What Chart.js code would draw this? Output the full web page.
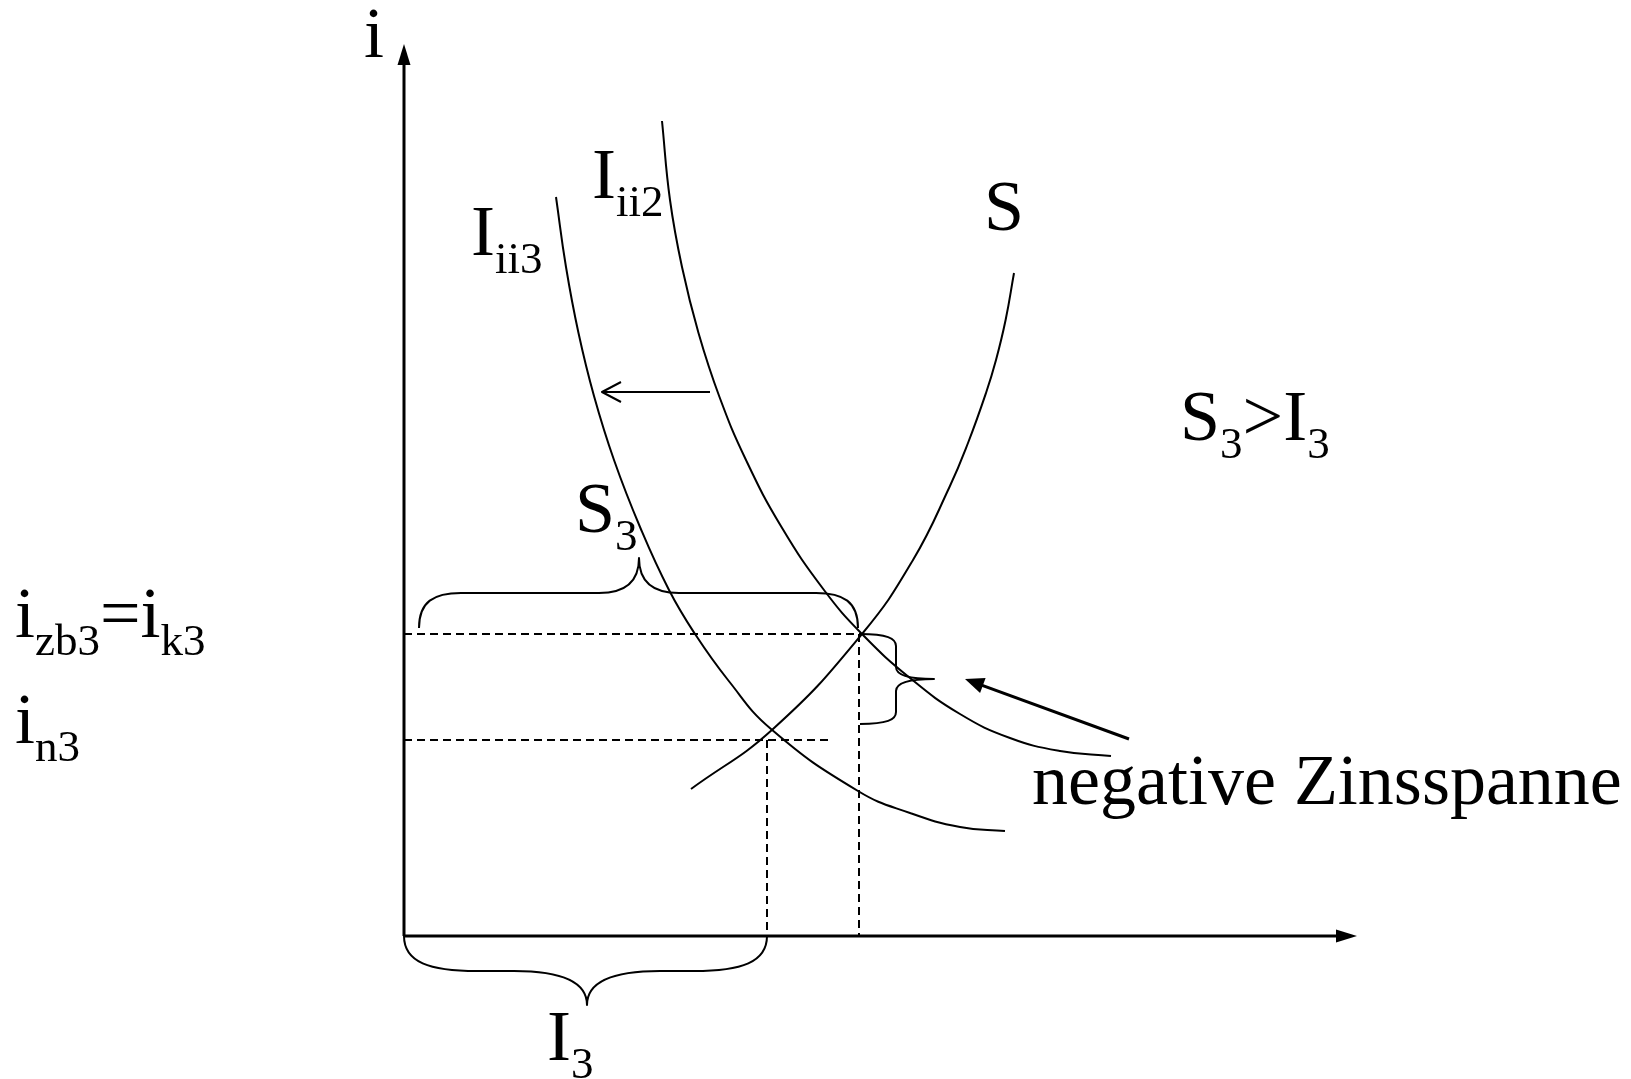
<!DOCTYPE html>
<html>
<head>
<meta charset="utf-8">
<script src="https://cdn.jsdelivr.net/npm/chart.js@4/dist/chart.umd.min.js"></script>
<style>
html,body{margin:0;padding:0;background:#fff;overflow:hidden;font-family:"Liberation Serif",serif}
canvas{display:block}
</style>
</head>
<body>
<canvas id="c" width="1631" height="1079"></canvas>
<script>
// ---- values (units: quantity / interest rate, origin at axes) ----
const curveS_x   = [28.7, 36.9, 45.8, 50.9, 54.55, 56.4, 58.2, 59.2, 60.16, 61.0];
const curveS_y   = [14.7, 20.7, 30.2, 37.6, 44.9, 49.3, 54.3, 57.6, 61.6, 66.3];
const curveI3_x  = [15.2, 16.2, 17.45, 19.0, 21.0, 23.6, 26.5, 29.1, 32.4, 36.7, 45.4, 50.6, 55.6, 60.1];
const curveI3_y  = [73.9, 66.9, 60.3, 54.0, 47.6, 40.9, 34.6, 30.2, 25.6, 20.7, 14.5, 12.3, 10.9, 10.5];
const curveI2_x  = [25.8, 26.6, 27.8, 29.45, 31.55, 34.2, 37.75, 42.0, 45.8, 50.6, 55.6, 60.6, 65.6, 70.7];
const curveI2_y  = [81.5, 73.6, 66.9, 60.3, 53.9, 47.6, 40.9, 34.6, 30.2, 25.8, 22.2, 19.8, 18.5, 18.0];

const rateZbK   = 30.2;   // i_zb3 = i_k3
const rateN     = 19.6;   // i_n3
const qtyS3     = 45.5;   // S3 quantity
const qtyI3     = 36.3;   // I3 quantity
const dashZbEnd = 45.8;
const dashNEnd  = 42.4;
const axisXEnd  = 95.3;
const axisYEnd  = 89.2;

const shiftArrowX = [30.6, 19.8];
const shiftArrowY = [54.4, 54.4];
const spanArrowX  = [72.5, 56.1];
const spanArrowY  = [19.7, 25.7];

const labelTexts = ['i', 'I_{ii3}', 'I_{ii2}', 'S', 'S_{3}>I_{3}', 'S_{3}',
                    'i_{zb3}=i_{k3}', 'i_{n3}', 'negative Zinsspanne', 'I_{3}'];
const labelX = [-4.0, 6.7, 18.8, 58.0, 77.6, 17.1, -38.9, -38.9, 62.8, 14.3];
const labelY = [87.9, 68.1, 73.8, 70.6, 49.6, 40.4, 29.9, 19.3, 13.2, -12.4];

// ---- helpers ----
const pts = (xs, ys) => xs.map((x, i) => ({x, y: ys[i]}));
const solid = (data, w) => ({data, borderColor:'#000', borderWidth:w, pointRadius:0, fill:false, tension:0});
const curve = (data) => ({data, borderColor:'#000', borderWidth:2, pointRadius:0, fill:false, tension:0.45});
const dashed = (data) => ({data, borderColor:'#000', borderWidth:2, borderDash:[8,5], pointRadius:0, fill:false, tension:0});

const datasets = [
  solid([{x:0,y:0},{x:0,y:axisYEnd-1.0}], 3),
  solid([{x:0,y:0},{x:axisXEnd-1.0,y:0}], 3),
  dashed([{x:0,y:rateZbK},{x:dashZbEnd,y:rateZbK}]),
  dashed([{x:0,y:rateN},{x:dashNEnd,y:rateN}]),
  dashed([{x:qtyI3,y:rateN},{x:qtyI3,y:0}]),
  dashed([{x:qtyS3,y:rateZbK},{x:qtyS3,y:0}]),
  curve(pts(curveS_x, curveS_y)),
  curve(pts(curveI3_x, curveI3_y)),
  curve(pts(curveI2_x, curveI2_y)),
  solid(pts(shiftArrowX, shiftArrowY), 2),
  solid(pts([spanArrowX[0], spanArrowX[1] + 0.9], [spanArrowY[0], spanArrowY[1] - 0.33]), 3)
];

function head(ctx, fx, fy, tx, ty, len, hw, filled) {
  const a = Math.atan2(ty - fy, tx - fx);
  const c = Math.cos(a), s = Math.sin(a);
  const bx = tx - c*len, by = ty - s*len;
  const p1 = [bx - s*hw, by + c*hw], p2 = [bx + s*hw, by - c*hw];
  ctx.beginPath();
  if (filled) {
    ctx.moveTo(tx, ty); ctx.lineTo(p1[0], p1[1]); ctx.lineTo(p2[0], p2[1]); ctx.closePath(); ctx.fill();
  } else {
    ctx.moveTo(p1[0], p1[1]); ctx.lineTo(tx, ty); ctx.lineTo(p2[0], p2[1]); ctx.stroke();
  }
}

// brace from A to B (pixels); side = +/-1 chooses bulge direction
function brace(ctx, ax, ay, bx, by, side, arm, tip, tipPos, corner, tipCorner) {
  const L = Math.hypot(bx-ax, by-ay);
  const dx = (bx-ax)/L, dy = (by-ay)/L;
  ctx.save();
  ctx.translate(ax, ay);
  ctx.transform(dx, dy, side*(-dy), side*dx, 0, 0);
  ctx.beginPath();
  ctx.moveTo(0, 0);
  ctx.bezierCurveTo(0, arm*0.75, corner*0.35, arm, corner, arm);
  ctx.lineTo(tipPos - tipCorner, arm);
  ctx.bezierCurveTo(tipPos - tipCorner*0.35, arm, tipPos, arm + tip*0.3, tipPos, arm + tip);
  ctx.bezierCurveTo(tipPos, arm + tip*0.3, tipPos + tipCorner*0.35, arm, tipPos + tipCorner, arm);
  ctx.lineTo(L - corner, arm);
  ctx.bezierCurveTo(L - corner*0.35, arm, L, arm*0.75, L, 0);
  ctx.restore();
  ctx.stroke();
}

const MAIN_FONT = '72px "Liberation Serif", "DejaVu Serif", serif';
const SUB_FONT  = '45px "Liberation Serif", "DejaVu Serif", serif';

function drawLabel(ctx, str, x, y) {
  const re = /([^_]+?)(?=_\{|$)|_\{([^}]*)\}/g;
  let m, cx = x;
  while ((m = re.exec(str)) !== null) {
    if (m[2] !== undefined) {
      ctx.font = SUB_FONT;
      ctx.fillText(m[2], cx, y + 18);
      cx += ctx.measureText(m[2]).width;
    } else if (m[1]) {
      ctx.font = MAIN_FONT;
      ctx.fillText(m[1], cx, y);
      cx += ctx.measureText(m[1]).width;
    }
  }
}

const overlay = {
  id: 'overlay',
  afterDatasetsDraw(chart) {
    const ctx = chart.ctx, xs = chart.scales.x, ys = chart.scales.y;
    const X = v => xs.getPixelForValue(v), Y = v => ys.getPixelForValue(v);
    const u = Math.abs(X(1) - X(0));
    ctx.save();
    ctx.strokeStyle = '#000'; ctx.fillStyle = '#000';
    ctx.lineCap = 'butt'; ctx.lineJoin = 'round';
    // axis arrow heads
    head(ctx, X(0), Y(0), X(0), Y(axisYEnd), 21, 6.5, true);
    head(ctx, X(0), Y(0), X(axisXEnd), Y(0), 21, 6.5, true);
    // shift arrow (open head)
    ctx.lineWidth = 2;
    head(ctx, X(shiftArrowX[0]), Y(shiftArrowY[0]), X(shiftArrowX[1]), Y(shiftArrowY[1]), 19, 10, false);
    // negative Zinsspanne arrow (filled head)
    head(ctx, X(spanArrowX[0]), Y(spanArrowY[0]), X(spanArrowX[1]), Y(spanArrowY[1]), 19, 8, true);
    // braces
    ctx.lineWidth = 2;
    brace(ctx, X(1.5), Y(rateZbK + 0.6), X(qtyS3 - 0.1), Y(rateZbK + 0.6), -1, 3.5*u, 3.5*u, 22.0*u, 4.2*u, 4.0*u);
    brace(ctx, X(0), Y(0), X(qtyI3), Y(0), 1, 3.5*u, 3.4*u, 18.3*u, 7.3*u, 7.3*u);
    brace(ctx, X(qtyS3 + 0.1), Y(rateZbK), X(qtyS3 + 0.1), Y(rateN + 1.6), -1, 3.6*u, 3.8*u, 4.5*u, 1.2*u, 1.2*u);
    // labels
    ctx.textBaseline = 'alphabetic'; ctx.textAlign = 'left';
    labelTexts.forEach((t, i) => drawLabel(ctx, t, X(labelX[i]), Y(labelY[i])));
    ctx.restore();
  }
};

function build() {
  new Chart(document.getElementById('c'), {
    type: 'line',
    data: { datasets },
    options: {
      responsive: false,
      animation: false,
      layout: { padding: 0 },
      plugins: { legend: { display: false }, tooltip: { enabled: false }, title: { display: false } },
      scales: {
        x: { type: 'linear', min: -40.4, max: 122.7, display: false },
        y: { type: 'linear', min: -14.3, max: 93.6, display: false }
      }
    },
    plugins: [overlay]
  });
}
if (document.fonts && document.fonts.load) {
  Promise.all([document.fonts.load(MAIN_FONT), document.fonts.load(SUB_FONT)]).then(build, build);
} else { build(); }
</script>
</body>
</html>
